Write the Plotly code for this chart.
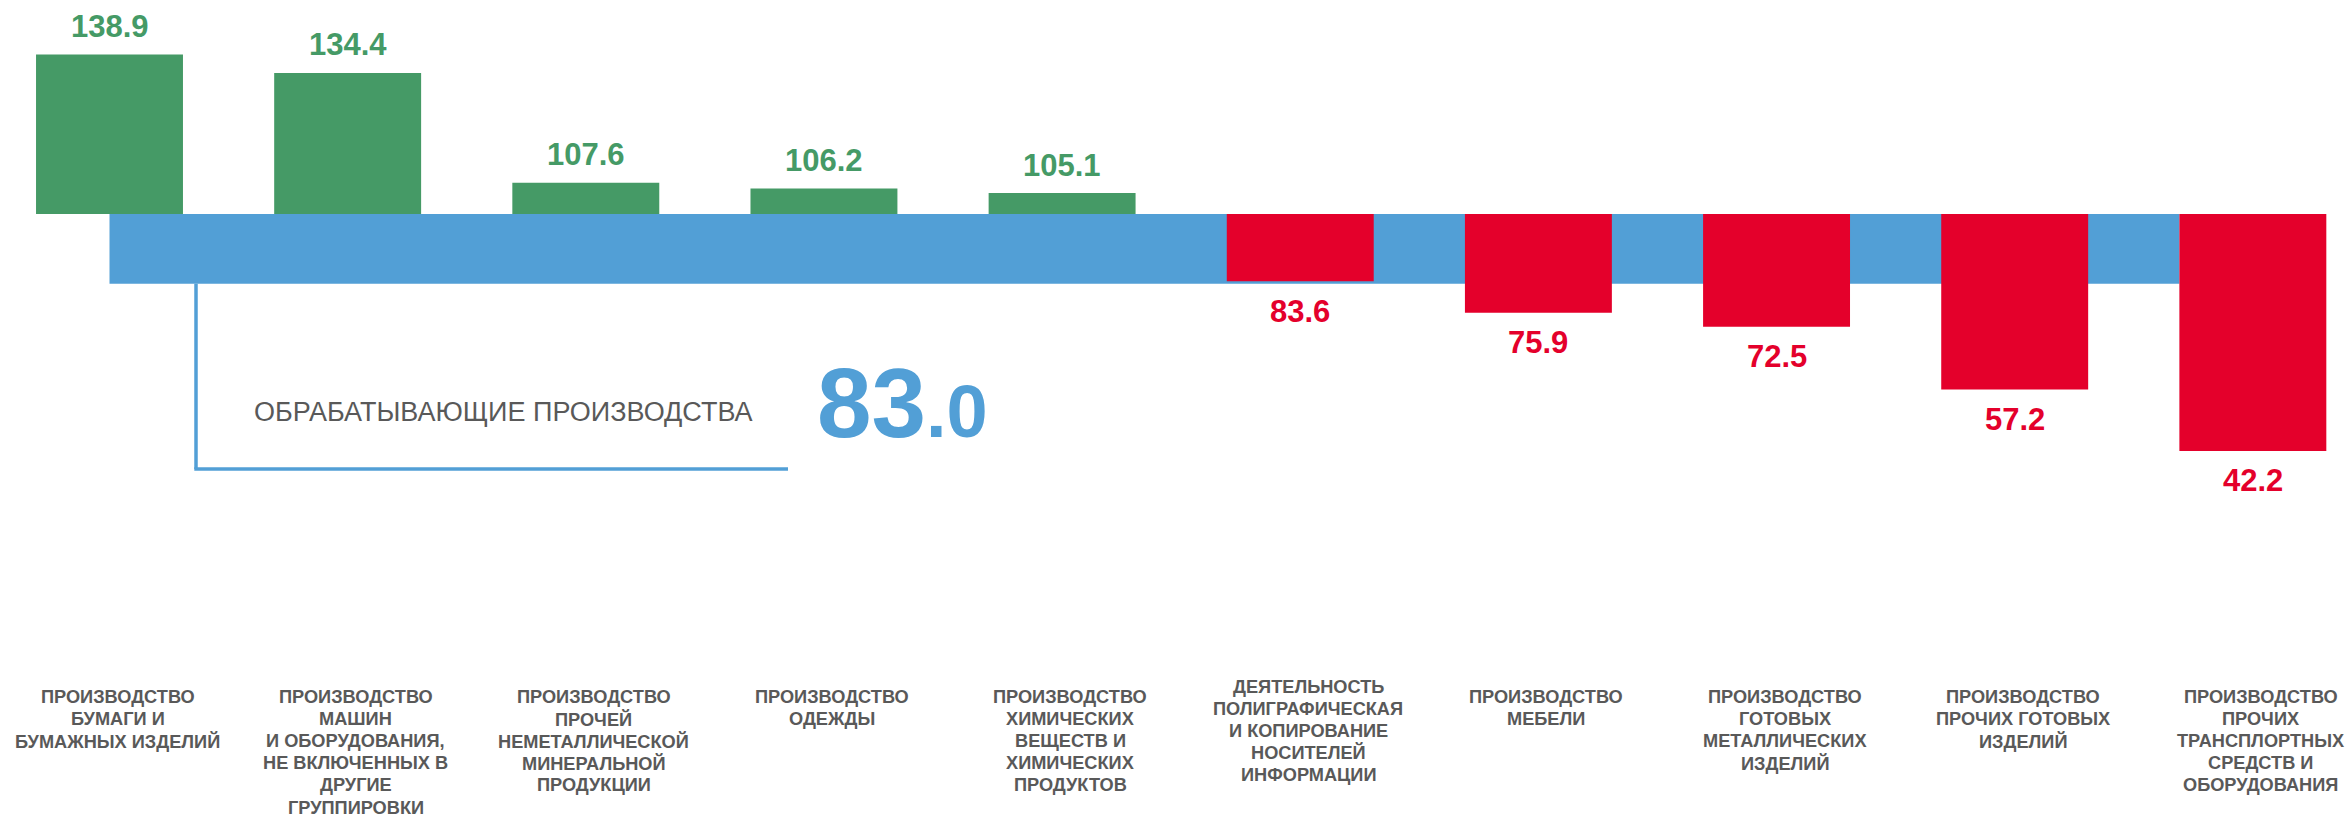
import plotly.graph_objects as go

# ---- data ----
categories = [
    "ПРОИЗВОДСТВО<br>БУМАГИ И<br>БУМАЖНЫХ ИЗДЕЛИЙ",
    "ПРОИЗВОДСТВО<br>МАШИН<br>И ОБОРУДОВАНИЯ,<br>НЕ ВКЛЮЧЕННЫХ В<br>ДРУГИЕ<br>ГРУППИРОВКИ",
    "ПРОИЗВОДСТВО<br>ПРОЧЕЙ<br>НЕМЕТАЛЛИЧЕСКОЙ<br>МИНЕРАЛЬНОЙ<br>ПРОДУКЦИИ",
    "ПРОИЗВОДСТВО<br>ОДЕЖДЫ",
    "ПРОИЗВОДСТВО<br>ХИМИЧЕСКИХ<br>ВЕЩЕСТВ И<br>ХИМИЧЕСКИХ<br>ПРОДУКТОВ",
    "ДЕЯТЕЛЬНОСТЬ<br>ПОЛИГРАФИЧЕСКАЯ<br>И КОПИРОВАНИЕ<br>НОСИТЕЛЕЙ<br>ИНФОРМАЦИИ",
    "ПРОИЗВОДСТВО<br>МЕБЕЛИ",
    "ПРОИЗВОДСТВО<br>ГОТОВЫХ<br>МЕТАЛЛИЧЕСКИХ<br>ИЗДЕЛИЙ",
    "ПРОИЗВОДСТВО<br>ПРОЧИХ ГОТОВЫХ<br>ИЗДЕЛИЙ",
    "ПРОИЗВОДСТВО<br>ПРОЧИХ<br>ТРАНСПЛОРТНЫХ<br>СРЕДСТВ И<br>ОБОРУДОВАНИЯ",
]
values = [138.9, 134.4, 107.6, 106.2, 105.1, 83.6, 75.9, 72.5, 57.2, 42.2]
base_level = 100.0
total_value = 83.0
total_label = "ОБРАБАТЫВАЮЩИЕ ПРОИЗВОДСТВА"

# ---- styles ----
GREEN = "#459a66"
RED = "#e4002b"
BLUE = "#529fd6"
GREY = "#595959"
FONT = "Liberation Sans, Arial, sans-serif"
W, H = 2349, 817
BAR_W = 0.617

idx = list(range(len(values)))
colors = [GREEN if v >= base_level else RED for v in values]

fig = go.Figure()
fig.add_trace(go.Bar(
    x=idx,
    y=[v - base_level for v in values],
    base=base_level,
    width=BAR_W,
    marker=dict(color=colors, line=dict(width=0)),
    hoverinfo="skip",
    showlegend=False,
))

# total band (from first category centre to left edge of last bar)
fig.add_shape(type="rect", xref="x", yref="y",
              x0=idx[0], x1=idx[-1] - BAR_W / 2,
              y0=base_level, y1=total_value,
              fillcolor=BLUE, line=dict(width=0), layer="below")


def py(px):
    return 1 - px / H


def px_(p):
    return p / W


# bracket
fig.add_shape(type="line", xref="paper", yref="y",
              x0=px_(196), x1=px_(196), y0=total_value, y1=total_value - 45.2,
              line=dict(color=BLUE, width=3.5))
fig.add_shape(type="line", xref="paper", yref="y",
              x0=px_(194.3), x1=px_(788), y0=total_value - 45.2, y1=total_value - 45.2,
              line=dict(color=BLUE, width=3.5))

annotations = []
# value labels
for i, v in zip(idx, values):
    up = v >= base_level
    annotations.append(dict(
        x=i, y=v, xref="x", yref="y",
        text=f"{v:.1f}", showarrow=False,
        xanchor="center", yanchor="middle",
        yshift=28 if up else -30,
        font=dict(family=FONT, size=31, color=GREEN if up else RED, weight="bold"),
    ))
# category labels (one annotation per line for exact line spacing)
LINE_STEP = 22.1
for i, c in zip(idx, categories):
    first_px = 686.5 if c.startswith("ДЕЯТЕЛЬНОСТЬ") else 697
    for k, line in enumerate(c.split("<br>")):
        annotations.append(dict(
            x=i, y=py(first_px + k * LINE_STEP), xref="x", yref="paper",
            text=line, showarrow=False, xanchor="center", yanchor="middle",
            xshift=8,
            font=dict(family=FONT, size=18.2, color=GREY, weight="bold"),
        ))
# total label
annotations.append(dict(
    x=px_(503), y=py(412), xref="paper", yref="paper",
    text=total_label, showarrow=False, xanchor="center", yanchor="middle",
    font=dict(family=FONT, size=27, color=GREY),
))
whole, frac = f"{total_value:.1f}".split(".")
annotations.append(dict(
    x=px_(815), y=py(403), xref="paper", yref="paper",
    text=f"<b>{whole}</b><span style='font-size:74px'><b>.{frac}</b></span>",
    showarrow=False, xanchor="left", yanchor="middle",
    font=dict(family=FONT, size=98, color=BLUE),
))

# axis ranges: baseline 100 at y=214px, 4.1 px per unit; category 0 at 109.5px, 238.15px per step
PPU = 4.1
y_top = base_level + 214 / PPU
y_bot = base_level - (H - 214) / PPU
STEP = 238.15
x_left = -109.5 / STEP
x_right = (W - 109.5) / STEP

fig.update_layout(
    width=W, height=H,
    margin=dict(l=0, r=0, t=0, b=0),
    paper_bgcolor="white", plot_bgcolor="white",
    xaxis=dict(range=[x_left, x_right], visible=False, fixedrange=True),
    yaxis=dict(range=[y_bot, y_top], visible=False, fixedrange=True),
    annotations=annotations,
    showlegend=False,
)

fig.write_html(
    "out.html",
    config={"displayModeBar": False},
    post_script="document.body.style.margin='0';document.body.style.overflow='hidden';",
)
